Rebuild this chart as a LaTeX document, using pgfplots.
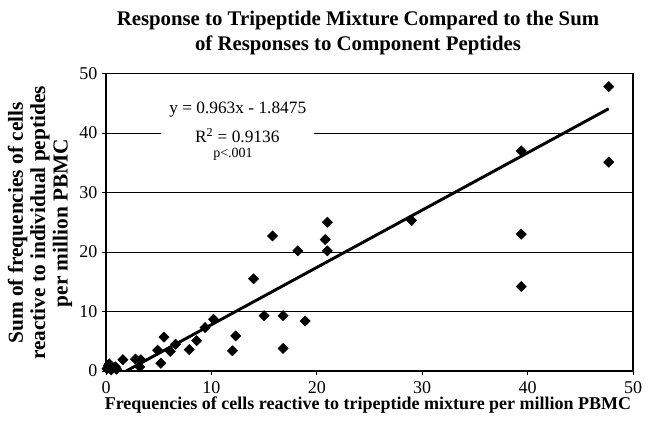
\documentclass[border=0pt]{standalone}
\usepackage{fontspec}
\setmainfont{Liberation Serif}
\usepackage{pgfplots}
\pgfplotsset{compat=1.18}
\begin{document}
\begin{tikzpicture}[x=1pt,y=1pt]
\useasboundingbox (-79.5pt,-41.25pt) rectangle (410.25pt,278.25pt);
\begin{axis}[
  at={(0pt,0pt)}, anchor=south west,
  scale only axis, width=395.25pt, height=223.1pt,
  xmin=0, xmax=50, ymin=0, ymax=50,
  xtick={0,10,...,50}, ytick={0,10,...,50},
  tick align=outside, tick pos=left,
  major tick length=3pt,
  ymajorgrids, grid style={black, line width=0.6pt},
  axis line style={black, line width=0.8pt},
  tick style={black, line width=0.6pt},
  /pgf/number format/assume math mode=true,
  ticklabel style={font=\fontsize{13.5}{15}\selectfont},
  xticklabel style={yshift=-1pt},
  clip=true,
]
\addplot[only marks, mark=square*, mark size=2.7pt, mark options={rotate=45, fill=black, draw=black}] coordinates {
(47.7,47.8) (47.7,35.1) (39.4,37.0) (39.4,23.0) (39.4,14.2)
(29.0,25.3) (21.0,25.0) (15.8,22.7) (20.8,22.1) (18.2,20.2) (21.0,20.2)
(14.0,15.5) (15.0,9.3) (16.8,9.3) (18.9,8.4) (12.3,5.9) (12.0,3.4) (16.8,3.8)
(10.2,8.7) (9.4,7.3) (8.6,5.1) (7.9,3.6) (6.6,4.5) (6.1,3.3) (5.5,5.7)
(4.9,3.5) (5.2,1.3) (3.3,1.9) (2.8,2.0) (3.2,0.7) (1.6,1.9)
(0.3,1.2) (0.9,0.7) (0.1,0.4) (0.5,0.2) (1.0,0.3) (0.2,0.9)
};
\addplot[black, line width=2.2pt] coordinates {(1.92,0) (47.7,44.09)};
\node[fill=white, inner sep=0.3pt, minimum width=114.5pt, font=\fontsize{13}{14}\selectfont] at (axis cs:12.45,39.6) {R\textsuperscript{2} = 0.9136};
\node[font=\fontsize{13}{14}\selectfont] at (axis cs:12.5,43.9) {y = 0.963x - 1.8475};
\node[inner sep=0.5pt, font=\fontsize{10.5}{11}\selectfont] at (axis cs:12.05,36.4) {p<.001};
\end{axis}
\node[font=\fontsize{15.6}{18.5}\bfseries, align=center] at (189pt,253.5pt) {Response to Tripeptide Mixture Compared to the Sum\\of Responses to Component Peptides};
\node[font=\fontsize{16}{16.8}\bfseries, align=center, rotate=90] at (-49.5pt,111pt) {Sum of frequencies of cells\\reactive to individual peptides\\per million PBMC};
\node[font=\fontsize{13.5}{15}\bfseries] at (196.5pt,-25.5pt) {Frequencies of cells reactive to tripeptide mixture per million PBMC};
\end{tikzpicture}
\end{document}
